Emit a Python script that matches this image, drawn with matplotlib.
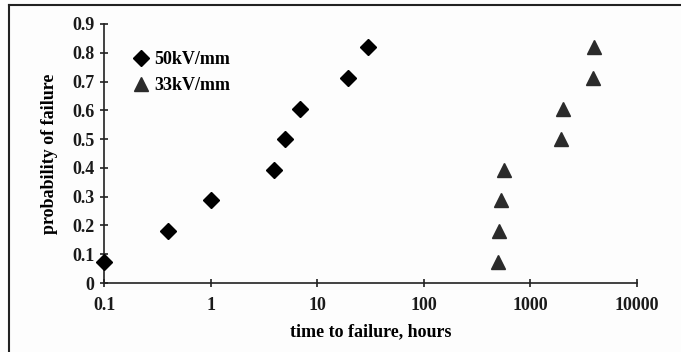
import matplotlib
matplotlib.use("Agg")
import matplotlib.pyplot as plt
from matplotlib.lines import Line2D
import numpy as np

# data
t_50 = [0.1, 0.40, 1.0, 3.95, 4.95, 6.9, 19.5, 29.8]
p_50 = [0.074, 0.181, 0.287, 0.394, 0.50, 0.606, 0.713, 0.819]

t_33 = [500, 510, 535, 565, 1950, 2040, 3850, 3950]
p_33 = [0.074, 0.181, 0.287, 0.394, 0.50, 0.606, 0.713, 0.819]

x_ticks = [0.1, 1, 10, 100, 1000, 10000]
x_labels = ["0.1", "1", "10", "100", "1000", "10000"]
y_ticks = np.arange(0, 0.91, 0.1)
y_labels = ["0", "0.1", "0.2", "0.3", "0.4", "0.5", "0.6", "0.7", "0.8", "0.9"]

plt.rcParams['font.family'] = ['Liberation Serif', 'DejaVu Serif']
plt.rcParams['font.weight'] = 'bold'

fig = plt.figure(figsize=(6.81, 3.52), dpi=100)
fig.patch.set_facecolor("#fdfdfd")
ax = fig.add_axes([104 / 681, 1 - 283 / 352, (637 - 104) / 681, (283 - 24) / 352])
ax.set_facecolor("none")

ax.plot(t_50, p_50, 'D', color='black', markersize=8, linestyle='none',
        label='50kV/mm', clip_on=False, zorder=3)
ax.plot(t_33, p_33, '^', color='#2b2b2b', markersize=9.5, linestyle='none',
        label='33kV/mm', clip_on=False, zorder=3)

ax.set_xscale('log')
ax.set_xlim(0.1, 10000)
ax.set_ylim(0, 0.9)
ax.set_xticks(x_ticks)
ax.set_xticklabels(x_labels)
ax.minorticks_off()
ax.set_yticks(y_ticks)
ax.set_yticklabels(y_labels)

for s in ['top', 'right']:
    ax.spines[s].set_visible(False)
for s in ['left', 'bottom']:
    ax.spines[s].set_linewidth(1.2)
    ax.spines[s].set_color('#222222')

ax.tick_params(axis='both', direction='inout', length=6, width=1.2, labelsize=13,
               colors='#222222', labelcolor='#1a1a1a')
ax.tick_params(axis='x', pad=7)
ax.tick_params(axis='y', pad=4)

ax.set_xlabel("time to failure, hours", fontsize=13, fontweight='bold', labelpad=7)
ax.set_ylabel("probability of failure", fontsize=13, fontweight='bold', labelpad=10)

ax.legend(loc='upper left', bbox_to_anchor=(0.035, 0.945), frameon=False, fontsize=13,
          handlelength=0.6, handletextpad=0.45, labelspacing=0.5, borderpad=0.2)

# scanned page frame: left and top edges
fig.add_artist(Line2D([9 / 681, 9 / 681], [0, 1 - 5 / 352], color='#222222', lw=1.5))
fig.add_artist(Line2D([9 / 681, 1], [1 - 5 / 352, 1 - 5 / 352], color='#222222', lw=1.5))

fig.savefig("out.png", dpi=100)
